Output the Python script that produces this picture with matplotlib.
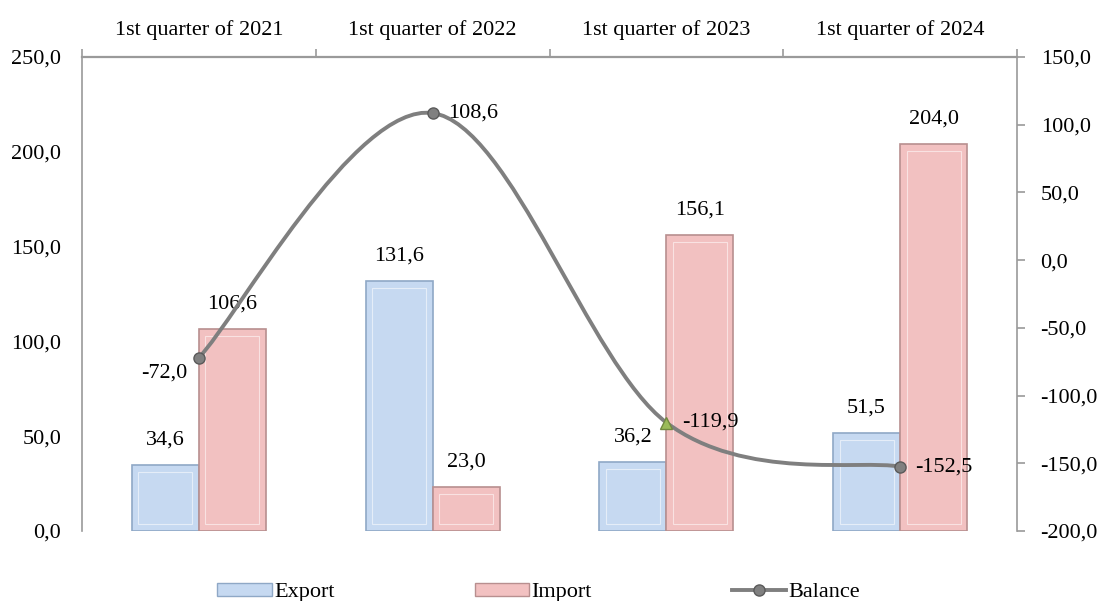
import matplotlib.pyplot as plt
import numpy as np
from matplotlib.path import Path
from matplotlib.patches import PathPatch, Patch
from matplotlib.lines import Line2D

# datos del gráfico
categorias = ['1st quarter of 2021', '1st quarter of 2022', '1st quarter of 2023', '1st quarter of 2024']
export_vals = [34.6, 131.6, 36.2, 51.5]
import_vals = [106.6, 23.0, 156.1, 204.0]
balance_vals = [-72.0, 108.6, -119.9, -152.5]

plt.rcParams['font.family'] = ['Liberation Serif', 'DejaVu Serif']

def fmt(v):
    return f'{v:.1f}'.replace('.', ',')

fig = plt.figure(figsize=(10.97, 6.01), dpi=100)
ax = fig.add_axes([82/1097, 1 - 531/601, (1017 - 82)/1097, (531 - 57)/601])
ax2 = ax.twinx()

x = np.arange(len(categorias))
w = 0.287
col_exp = '#C6D9F1'
col_imp = '#F2C1C1'
edge_exp = '#8FA8C6'
edge_imp = '#B88F8F'

# barras con un pequeño bisel (rectángulo interior más claro)
dx = 0.028
dy = 3.5
for vals, off, fc, ec in [(export_vals, -w/2, col_exp, edge_exp), (import_vals, w/2, col_imp, edge_imp)]:
    ax.bar(x + off, vals, w, color=fc, edgecolor=ec, linewidth=1.2, zorder=2)
    inner = [max(v - 2*dy, 0) for v in vals]
    ax.bar(x + off, inner, w - 2*dx, bottom=dy, color=fc, edgecolor=(1, 1, 1, 0.55),
           linewidth=0.8, zorder=2)
    for i in range(len(x)):
        ax.annotate(fmt(vals[i]), (x[i] + off, vals[i]), xytext=(0, 18),
                    textcoords='offset points', ha='center', va='center', fontsize=16)

ax.set_xlim(-0.5, 3.5)
ax.set_ylim(0, 250)
ax.set_yticks(np.arange(0, 251, 50))
ax.set_yticklabels([fmt(v) for v in np.arange(0, 251, 50)], fontsize=16)
ax2.set_ylim(-200, 150)
ax2.set_yticks(np.arange(-200, 151, 50))
ax2.set_yticklabels([fmt(v) for v in np.arange(-200, 151, 50)], fontsize=16)

# eje x arriba: marcas en los límites, etiquetas en el centro
ax.xaxis.tick_top()
ax.set_xticks(np.arange(-0.5, 4, 1))
ax.set_xticklabels([])
ax.set_xticks(x, minor=True)
ax.set_xticklabels(categorias, minor=True, fontsize=16)
ax.tick_params(axis='x', which='major', length=6, color='#9A9A9A', width=1.2, direction='out')
ax.tick_params(axis='x', which='minor', length=0, pad=12)
ax.tick_params(axis='y', length=0, pad=15)
ax2.tick_params(axis='y', length=6, color='#9A9A9A', width=1.2, pad=11)

for a in (ax, ax2):
    for s in a.spines.values():
        s.set_visible(False)
ax.spines['top'].set_visible(True)
ax.spines['top'].set_color('#9A9A9A')
ax.spines['top'].set_linewidth(1.6)
ax.spines['left'].set_visible(True)
ax.spines['left'].set_color('#9A9A9A')
ax.spines['left'].set_linewidth(1.2)
ax2.spines['right'].set_visible(True)
ax2.spines['right'].set_color('#9A9A9A')
ax2.spines['right'].set_linewidth(1.2)

# línea suavizada (Bezier tipo Catmull-Rom a partir de los puntos)
pts = np.column_stack([x, balance_vals]).astype(float)
verts = [tuple(pts[0])]
codes = [Path.MOVETO]
n = len(pts)
for i in range(n - 1):
    p0 = pts[i - 1] if i > 0 else pts[i]
    p1 = pts[i]
    p2 = pts[i + 1]
    p3 = pts[i + 2] if i + 2 < n else pts[i + 1]
    c1 = p1 + (p2 - p0) / 6
    c2 = p2 - (p3 - p1) / 6
    verts += [tuple(c1), tuple(c2), tuple(p2)]
    codes += [Path.CURVE4] * 3
ax2.add_patch(PathPatch(Path(verts, codes), facecolor='none', edgecolor='#7F7F7F',
                        linewidth=2.8, zorder=3))

for i in range(n):
    if i == 2:
        ax2.plot(x[i], balance_vals[i], marker='^', markersize=9, color='#9BBB59',
                 markeredgecolor='#71893F', zorder=4)
    else:
        ax2.plot(x[i], balance_vals[i], marker='o', markersize=8, color='#808080',
                 markeredgecolor='#5A5A5A', zorder=4)

ax2.annotate(fmt(balance_vals[0]), (x[0], balance_vals[0]), xytext=(-8, -11),
             textcoords='offset points', ha='right', va='center', fontsize=16)
for i in range(1, n):
    ax2.annotate(fmt(balance_vals[i]), (x[i], balance_vals[i]), xytext=(11, 0),
                 textcoords='offset points', ha='left', va='center', fontsize=16)

handles = [Patch(facecolor=col_exp, edgecolor=edge_exp),
           Patch(facecolor=col_imp, edgecolor=edge_imp),
           Line2D([0], [0], color='#7F7F7F', linewidth=2.8, marker='o', markersize=8,
                  markerfacecolor='#808080', markeredgecolor='#5A5A5A')]
fig.legend(handles, ['Export', 'Import', 'Balance'], loc='center', ncol=3,
           bbox_to_anchor=(0.491, 0.014), frameon=False, fontsize=16,
           handlelength=2.45, handleheight=0.55, handletextpad=0.1, columnspacing=6.3)

fig.savefig('out.png', dpi=100)
